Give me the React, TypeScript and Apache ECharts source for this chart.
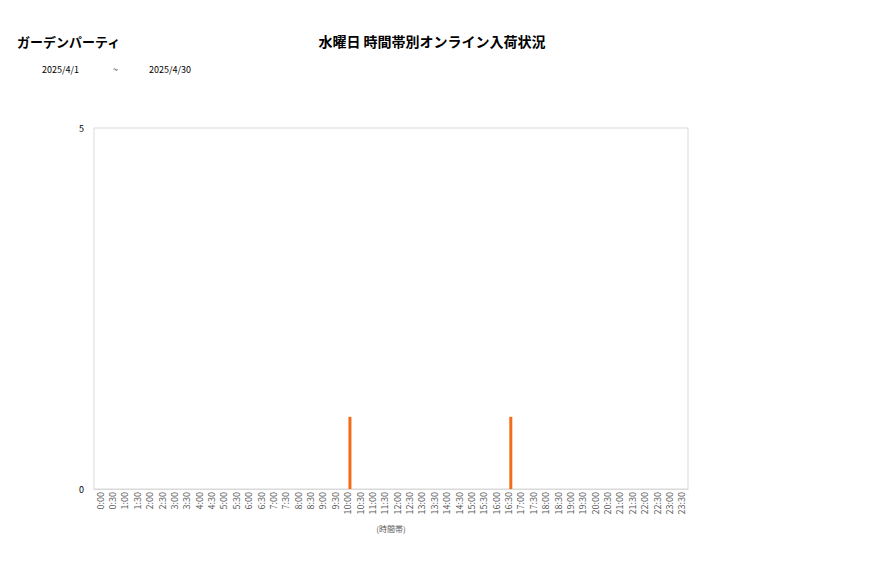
import * as echarts from 'echarts';
import { useEffect, useRef } from 'react';

const timeSlots: string[] = [
    '0:00', '0:30', '1:00', '1:30', '2:00', '2:30', '3:00', '3:30',
    '4:00', '4:30', '5:00', '5:30', '6:00', '6:30', '7:00', '7:30',
    '8:00', '8:30', '9:00', '9:30', '10:00', '10:30', '11:00', '11:30',
    '12:00', '12:30', '13:00', '13:30', '14:00', '14:30', '15:00', '15:30',
    '16:00', '16:30', '17:00', '17:30', '18:00', '18:30', '19:00', '19:30',
    '20:00', '20:30', '21:00', '21:30', '22:00', '22:30', '23:00', '23:30',
];

// 入荷数 (30分ごと) - 1本目の系列は空
const emptySeries: number[] = new Array(48).fill(0);
const arrivals: number[] = [
    0, 0, 0, 0, 0, 0, 0, 0,
    0, 0, 0, 0, 0, 0, 0, 0,
    0, 0, 0, 0, 1, 0, 0, 0,
    0, 0, 0, 0, 0, 0, 0, 0,
    0, 1, 0, 0, 0, 0, 0, 0,
    0, 0, 0, 0, 0, 0, 0, 0,
];

const shopName = 'ガーデンパーティ';
const chartTitle = '水曜日 時間帯別オンライン入荷状況';
const periodFrom = '2025/4/1';
const periodTo = '2025/4/30';

const font = '"Noto Sans CJK JP", "Noto Sans", sans-serif';

export default function App() {
    const chartRef = useRef<HTMLDivElement>(null);

    useEffect(() => {
        if (!chartRef.current) return;

        const chart = echarts.init(chartRef.current, null, { renderer: 'svg' });

        const option: echarts.EChartsOption = {
            animation: false,
            backgroundColor: '#ffffff',
            textStyle: { fontFamily: font },
            title: [
                {
                    text: shopName,
                    left: 12,
                    top: 30,
                    textStyle: { fontSize: 13, fontWeight: 'bold', color: '#000', fontFamily: font },
                },
                {
                    text: chartTitle,
                    left: 427,
                    textAlign: 'center',
                    top: 29,
                    textStyle: { fontSize: 14, fontWeight: 'bold', color: '#000', fontFamily: font },
                },
            ],
            graphic: [
                {
                    type: 'text',
                    left: 42,
                    top: 65,
                    style: { text: periodFrom, fontSize: 9, fill: '#000', fontFamily: font },
                },
                {
                    type: 'text',
                    left: 113,
                    top: 65,
                    style: { text: '~', fontSize: 9, fill: '#000', fontFamily: font },
                },
                {
                    type: 'text',
                    left: 149,
                    top: 65,
                    style: { text: periodTo, fontSize: 9, fill: '#000', fontFamily: font },
                },
            ],
            grid: {
                left: 94,
                right: 189,
                top: 128,
                bottom: 89,
                show: true,
                borderColor: '#d9d9d9',
                borderWidth: 1,
            },
            xAxis: {
                type: 'category',
                data: timeSlots,
                name: '(時間帯)',
                nameLocation: 'middle',
                nameGap: 35,
                nameTextStyle: { fontSize: 8, color: '#595959', fontFamily: font },
                axisLine: { lineStyle: { color: '#d9d9d9' } },
                axisTick: { show: false },
                axisLabel: {
                    interval: 0,
                    rotate: 90,
                    fontSize: 9,
                    color: '#595959',
                    margin: 3,
                    fontFamily: font,
                },
            },
            yAxis: {
                type: 'value',
                min: 0,
                max: 5,
                interval: 5,
                axisLine: { show: false },
                axisTick: { show: false },
                splitLine: { show: false },
                axisLabel: { fontSize: 9, color: '#000', margin: 10, fontFamily: font },
            },
            series: [
                {
                    name: '前期',
                    type: 'bar',
                    data: emptySeries,
                    barWidth: 3,
                    barGap: '50%',
                    itemStyle: { color: '#4472c4' },
                },
                {
                    name: '入荷数',
                    type: 'bar',
                    data: arrivals,
                    barWidth: 3,
                    barGap: '50%',
                    itemStyle: { color: '#f26d1a' },
                },
            ],
        };

        chart.setOption(option);

        const handleResize = () => chart.resize();
        window.addEventListener('resize', handleResize);

        return () => {
            chart.dispose();
            window.removeEventListener('resize', handleResize);
        };
    }, []);

    return (
        <div
            ref={chartRef}
            style={{ position: 'absolute', left: 0, top: 0, width: '877px', height: '578px' }}
        />
    );
}
